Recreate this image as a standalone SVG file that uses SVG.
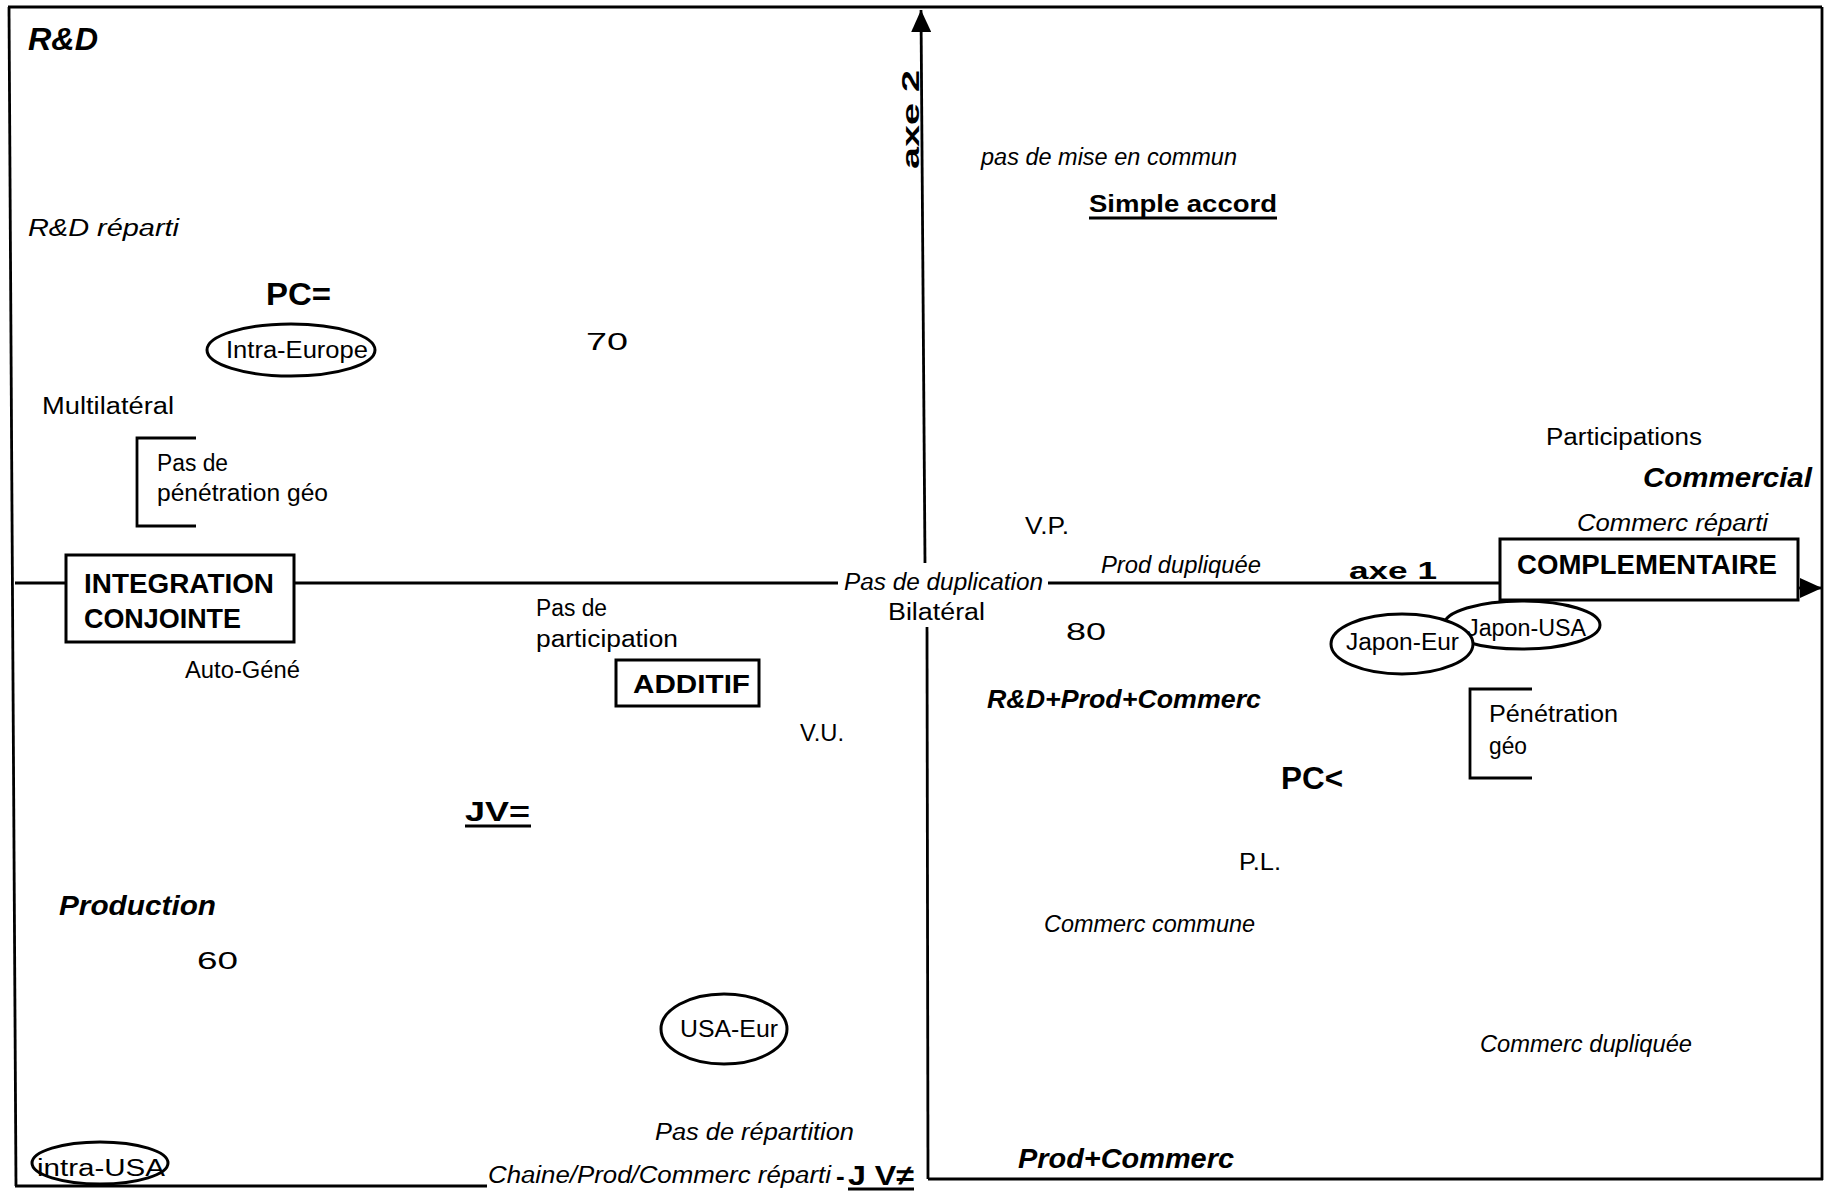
<svg xmlns="http://www.w3.org/2000/svg" width="1827" height="1193" viewBox="0 0 1827 1193">
<style>
.t{font-family:"Liberation Sans",Arial,sans-serif;fill:#000}
.r{font-size:23px}
.i{font-size:23px;font-style:italic}
.b{font-weight:bold}
.bi{font-weight:bold;font-style:italic}
.ln{stroke:#000;stroke-width:2.8;fill:none}
.box{fill:#fff;stroke:#000;stroke-width:3}
.ell{fill:#fff;stroke:#000;stroke-width:3}
</style>
<defs>
<marker id="arr" viewBox="0 0 22 20" refX="22" refY="10" markerWidth="22" markerHeight="20" markerUnits="userSpaceOnUse" orient="auto">
<path d="M0,0 L22,10 L0,20 Z" fill="#000"/>
</marker>
</defs>
<rect width="1827" height="1193" fill="#fff"/>
<g id="connectors">
<line class="ln" x1="8" y1="7" x2="1822" y2="7"/>
<line class="ln" x1="9" y1="7" x2="16" y2="1186"/>
<line class="ln" x1="1822" y1="7" x2="1822" y2="1180"/>
<line class="ln" x1="15" y1="1186" x2="487" y2="1186"/>
<line class="ln" x1="928" y1="1179" x2="1823" y2="1179"/>
<line class="ln" x1="15" y1="583" x2="66" y2="583"/>
<line class="ln" x1="294" y1="583" x2="838" y2="583"/>
<line class="ln" x1="1048" y1="583" x2="1500" y2="583"/>
<line class="ln" x1="1798" y1="588" x2="1822" y2="588" marker-end="url(#arr)"/>
<line class="ln" x1="925" y1="563" x2="921" y2="10" marker-end="url(#arr)"/>
<line class="ln" x1="927" y1="627" x2="928" y2="1179"/>
</g>
<g id="axe2"><text class="t b" font-size="24" transform="translate(919,169) rotate(-90)" textLength="99" lengthAdjust="spacingAndGlyphs">axe  2</text></g>
<g id="axe1"><text class="t b" font-size="24" x="1349" y="579" textLength="88" lengthAdjust="spacingAndGlyphs">axe  1</text></g>
<g id="rd"><text class="t bi" font-size="31" x="28" y="50" textLength="70" lengthAdjust="spacingAndGlyphs">R&amp;D</text></g>
<g id="rd-reparti"><text class="t i" font-size="25" x="28" y="236" textLength="151" lengthAdjust="spacingAndGlyphs">R&amp;D  réparti</text></g>
<g id="pc-eq"><text class="t b" font-size="32" x="266" y="305" textLength="65" lengthAdjust="spacingAndGlyphs">PC=</text></g>
<g id="intra-europe">
<ellipse class="ell" cx="291" cy="350" rx="84" ry="26"/>
<text class="t r" x="226" y="358" textLength="142" lengthAdjust="spacingAndGlyphs">Intra-Europe</text>
</g>
<g id="n70"><text class="t r" font-size="28" x="586" y="350" textLength="42" lengthAdjust="spacingAndGlyphs">70</text></g>
<g id="multilateral"><text class="t r" x="42" y="414" textLength="132" lengthAdjust="spacingAndGlyphs">Multilatéral</text></g>
<g id="pas-penetration">
<path class="ln" d="M196,438 H137 V526 H196"/>
<text class="t r" x="157" y="471" textLength="71" lengthAdjust="spacingAndGlyphs">Pas de</text>
<text class="t r" x="157" y="501" textLength="171" lengthAdjust="spacingAndGlyphs">pénétration  géo</text>
</g>
<g id="integration">
<rect class="box" x="66" y="555" width="228" height="87"/>
<text class="t b" font-size="27" x="84" y="593" textLength="190" lengthAdjust="spacingAndGlyphs">INTEGRATION</text>
<text class="t b" font-size="27" x="84" y="628" textLength="157" lengthAdjust="spacingAndGlyphs">CONJOINTE</text>
</g>
<g id="auto-gene"><text class="t r" x="185" y="678" textLength="115" lengthAdjust="spacingAndGlyphs">Auto-Géné</text></g>
<g id="pas-participation">
<text class="t r" x="536" y="616" textLength="71" lengthAdjust="spacingAndGlyphs">Pas de</text>
<text class="t r" x="536" y="647" textLength="142" lengthAdjust="spacingAndGlyphs">participation</text>
</g>
<g id="additif">
<rect class="box" x="616" y="660" width="143" height="46"/>
<text class="t b" font-size="26" x="633" y="693" textLength="117" lengthAdjust="spacingAndGlyphs">ADDITIF</text>
</g>
<g id="vu"><text class="t r" x="800" y="741" textLength="44" lengthAdjust="spacingAndGlyphs">V.U.</text></g>
<g id="jv-eq">
<text class="t b" font-size="28" x="465" y="821" textLength="65" lengthAdjust="spacingAndGlyphs">JV=</text>
<line class="ln" x1="465" y1="826" x2="531" y2="826"/>
</g>
<g id="production"><text class="t bi" font-size="28" x="59" y="915" textLength="157" lengthAdjust="spacingAndGlyphs">Production</text></g>
<g id="n60"><text class="t r" font-size="28" x="197" y="969" textLength="41" lengthAdjust="spacingAndGlyphs">60</text></g>
<g id="usa-eur">
<ellipse class="ell" cx="724" cy="1029" rx="63" ry="35"/>
<text class="t r" x="680" y="1037" textLength="98" lengthAdjust="spacingAndGlyphs">USA-Eur</text>
</g>
<g id="pas-repartition"><text class="t i" x="655" y="1140" textLength="199" lengthAdjust="spacingAndGlyphs">Pas  de  répartition</text></g>
<g id="intra-usa">
<ellipse class="ell" cx="100" cy="1163" rx="68" ry="21"/>
<text class="t r" x="37" y="1176" textLength="128" lengthAdjust="spacingAndGlyphs">intra-USA</text>
</g>
<g id="chaine">
<text class="t i" x="488" y="1183" textLength="343" lengthAdjust="spacingAndGlyphs">Chaine/Prod/Commerc  réparti</text>
<text class="t b" font-size="26" x="836" y="1185">-</text>
<text class="t b" font-size="28" x="848" y="1185" textLength="66" lengthAdjust="spacingAndGlyphs">J V≠</text>
<line class="ln" x1="848" y1="1189" x2="914" y2="1189"/>
</g>
<g id="pas-mise"><text class="t i" x="981" y="165" textLength="256" lengthAdjust="spacingAndGlyphs">pas de mise en commun</text></g>
<g id="simple-accord">
<text class="t b" font-size="24" x="1089" y="212" textLength="188" lengthAdjust="spacingAndGlyphs">Simple  accord</text>
<line class="ln" x1="1089" y1="218" x2="1277" y2="218"/>
</g>
<g id="participations"><text class="t r" x="1546" y="445" textLength="156" lengthAdjust="spacingAndGlyphs">Participations</text></g>
<g id="commercial"><text class="t bi" font-size="28" x="1643" y="487" textLength="169" lengthAdjust="spacingAndGlyphs">Commercial</text></g>
<g id="commerc-reparti"><text class="t i" x="1577" y="531" textLength="191" lengthAdjust="spacingAndGlyphs">Commerc  réparti</text></g>
<g id="vp"><text class="t r" x="1025" y="534" textLength="44" lengthAdjust="spacingAndGlyphs">V.P.</text></g>
<g id="prod-dupliquee"><text class="t i" x="1101" y="573" textLength="160" lengthAdjust="spacingAndGlyphs">Prod  dupliquée</text></g>
<g id="pas-duplication"><text class="t i" x="844" y="590" textLength="199" lengthAdjust="spacingAndGlyphs">Pas de duplication</text></g>
<g id="bilateral"><text class="t r" x="888" y="620" textLength="97" lengthAdjust="spacingAndGlyphs">Bilatéral</text></g>
<g id="n80"><text class="t r" font-size="28" x="1066" y="640" textLength="40" lengthAdjust="spacingAndGlyphs">80</text></g>
<g id="complementaire">
<rect class="box" x="1500" y="539" width="298" height="61"/>
<text class="t b" font-size="27" x="1517" y="574" textLength="260" lengthAdjust="spacingAndGlyphs">COMPLEMENTAIRE</text>
</g>
<g id="japon-usa">
<ellipse class="ell" cx="1522" cy="625" rx="78" ry="24"/>
</g>
<g id="japon-eur">
<ellipse class="ell" cx="1402" cy="644" rx="71" ry="30"/>
<text class="t r" x="1346" y="650" textLength="113" lengthAdjust="spacingAndGlyphs">Japon-Eur</text>
</g>
<g id="japon-usa-label"><text class="t r" x="1467" y="636" textLength="119" lengthAdjust="spacingAndGlyphs">Japon-USA</text></g>
<g id="rd-prod-commerc"><text class="t bi" font-size="26" x="987" y="708" textLength="274" lengthAdjust="spacingAndGlyphs">R&amp;D+Prod+Commerc</text></g>
<g id="penetration-geo">
<path class="ln" d="M1532,689 H1470 V778 H1532"/>
<text class="t r" x="1489" y="722" textLength="129" lengthAdjust="spacingAndGlyphs">Pénétration</text>
<text class="t r" x="1489" y="754" textLength="38" lengthAdjust="spacingAndGlyphs">géo</text>
</g>
<g id="pc-lt"><text class="t b" font-size="32" x="1281" y="789" textLength="62" lengthAdjust="spacingAndGlyphs">PC&lt;</text></g>
<g id="pl"><text class="t r" x="1239" y="870" textLength="42" lengthAdjust="spacingAndGlyphs">P.L.</text></g>
<g id="commerc-commune"><text class="t i" x="1044" y="932" textLength="211" lengthAdjust="spacingAndGlyphs">Commerc  commune</text></g>
<g id="commerc-dupliquee"><text class="t i" x="1480" y="1052" textLength="212" lengthAdjust="spacingAndGlyphs">Commerc  dupliquée</text></g>
<g id="prod-commerc"><text class="t bi" font-size="28" x="1018" y="1168" textLength="216" lengthAdjust="spacingAndGlyphs">Prod+Commerc</text></g>
</svg>
